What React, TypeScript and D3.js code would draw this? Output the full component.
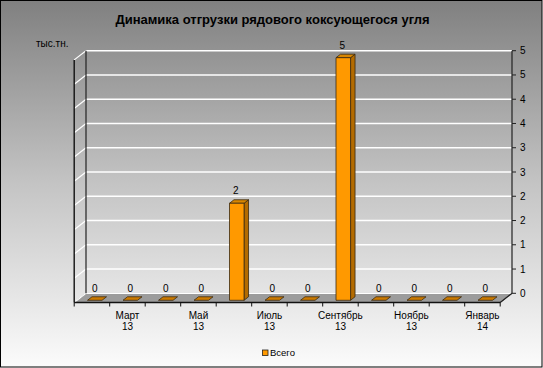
import React from 'react';
import * as d3 from 'd3';

// chart data
const months = ['Февраль 13', 'Март 13', 'Апрель 13', 'Май 13', 'Июнь 13', 'Июль 13', 'Август 13', 'Сентябрь 13', 'Октябрь 13', 'Ноябрь 13', 'Декабрь 13', 'Январь 14'];
const totals = [0, 0, 0, 0, 2, 0, 0, 5, 0, 0, 0, 0];
const yTicks = [0, 0.5, 1, 1.5, 2, 2.5, 3, 3.5, 4, 4.5, 5];
const seriesName = 'Всего';

const W = 543;
const H = 368;
// oblique depth of the floor (back wall -> front edge)
const DX = -11.8;
const DY = 9.2;
const F_BACK = 0.38;
const F_FRONT = 0.76;

const App = () => {
  const x = d3.scaleBand<string>().domain(months).range([86, 512]);
  const y = d3.scaleLinear().domain([0, 5]).range([293.3, 50.7]);
  const fmt = d3.format('.0f');

  // project a back-wall point forward by depth fraction f
  const p = (xv: number, v: number, f: number): [number, number] => [xv + DX * f, y(v) + DY * f];
  const pts = (arr: [number, number][]) => arr.map(a => a.join(',')).join(' ');

  const x0 = x.range()[0];
  const x1 = x.range()[1];
  const barW = x.bandwidth() * 0.41;

  return (
    <svg width={W} height={H} style={{ position: 'absolute', left: 0, top: 0 }} fontFamily="'Liberation Sans', Arial, sans-serif">
      <defs>
        <linearGradient id="bg" x1="0" y1="0" x2="0" y2="1">
          <stop offset="0" stopColor="#808080" />
          <stop offset="0.5" stopColor="#c4c4c4" />
          <stop offset="1" stopColor="#fbfbfb" />
        </linearGradient>
      </defs>
      <rect x={0.5} y={0.5} width={W - 1.5} height={H - 1.5} fill="url(#bg)" stroke="#000" strokeWidth={1} />

      <text x={W / 2 + 1} y={24} textAnchor="middle" fontSize={13} fontWeight="bold" fill="#000">
        Динамика отгрузки рядового коксующегося угля
      </text>
      <text x={36} y={47} fontSize={10} fill="#000">тыс.тн.</text>

      {/* floor */}
      <polygon points={pts([p(x0, 0, 0), p(x1, 0, 0), p(x1, 0, 1), p(x0, 0, 1)])} fill="#9c9c9c" stroke="#333" strokeWidth={0.8} />

      {/* back wall & left wall gridlines */}
      {yTicks.map(t => (
        <g key={t}>
          <line x1={x0} x2={x1} y1={y(t)} y2={y(t)} stroke="#fff" strokeWidth={1.4} />
          <line x1={p(x0, t, 1)[0]} y1={p(x0, t, 1)[1]} x2={x0} y2={y(t)} stroke="#fff" strokeWidth={1.2} />
        </g>
      ))}
      <line x1={x0} x2={x0} y1={y(5)} y2={y(0)} stroke="#222" strokeWidth={1.2} />
      <line x1={p(x0, 5, 1)[0]} x2={p(x0, 0, 1)[0]} y1={p(x0, 5, 1)[1]} y2={p(x0, 0, 1)[1]} stroke="#111" strokeWidth={1.4} />

      {/* right value axis */}
      <line x1={x1} x2={x1} y1={y(5)} y2={y(0)} stroke="#222" strokeWidth={1.2} />
      <line x1={x1} y1={y(0)} x2={p(x1, 0, 1)[0]} y2={p(x1, 0, 1)[1]} stroke="#222" strokeWidth={1.2} />
      {yTicks.map(t => (
        <g key={'r' + t}>
          <line x1={x1} x2={x1 + 4} y1={y(t)} y2={y(t)} stroke="#222" />
          <text x={x1 + 8} y={y(t)} dy="0.35em" fontSize={10} fill="#000">{fmt(t)}</text>
        </g>
      ))}

      {/* front category axis */}
      <line x1={p(x0, 0, 1)[0]} x2={p(x1, 0, 1)[0]} y1={p(x0, 0, 1)[1]} y2={p(x1, 0, 1)[1]} stroke="#111" strokeWidth={1.4} />
      {months.map((m, i) => {
        const bx = (x(m) as number);
        const [tx, ty] = p(bx, 0, 1);
        return <line key={'t' + i} x1={tx} x2={tx} y1={ty} y2={ty + 4} stroke="#111" />;
      }).concat([<line key="tl" x1={p(x1, 0, 1)[0]} x2={p(x1, 0, 1)[0]} y1={p(x1, 0, 1)[1]} y2={p(x1, 0, 1)[1] + 4} stroke="#111" />])}
      {months.map((m, i) => {
        if (i % 2 === 0) return null;
        const [cx, cy] = p((x(m) as number) + x.bandwidth() / 2, 0, 1);
        const [name, yr] = m.split(' ');
        return (
          <text key={'l' + i} x={cx} y={cy + 16} textAnchor="middle" fontSize={10} fill="#000">
            <tspan x={cx}>{name}</tspan>
            <tspan x={cx} dy={11.5}>{yr}</tspan>
          </text>
        );
      })}

      {/* bars */}
      {months.map((m, i) => {
        const v = totals[i];
        const c = (x(m) as number) + x.bandwidth() / 2;
        const l = c - barW / 2;
        const r = c + barW / 2;
        const fl = p(l, 0, F_FRONT), fr = p(r, 0, F_FRONT);
        const ftl = p(l, v, F_FRONT), ftr = p(r, v, F_FRONT);
        const bl = p(l, v, F_BACK), br = p(r, v, F_BACK), bb = p(r, 0, F_BACK);
        const [lx, ly] = p(c, v, F_FRONT);
        if (v === 0) {
          return (
            <g key={'b' + i}>
              <polygon points={pts([fl, fr, br, bl])} fill="#cc7a00" stroke="#3a2a10" strokeWidth={0.8} />
              <text x={lx} y={ly - 8} textAnchor="middle" fontSize={10} fill="#000">{fmt(v)}</text>
            </g>
          );
        }
        return (
          <g key={'b' + i}>
            <polygon points={pts([fr, ftr, br, bb])} fill="#b36b00" stroke="#3a2a10" strokeWidth={0.8} />
            <polygon points={pts([ftl, ftr, br, bl])} fill="#d88600" stroke="#3a2a10" strokeWidth={0.8} />
            <polygon points={pts([fl, fr, ftr, ftl])} fill="#ff9900" stroke="#3a2a10" strokeWidth={0.8} />
            <text x={lx - 1} y={ly - 9} textAnchor="middle" fontSize={10} fill="#000">{fmt(v)}</text>
          </g>
        );
      })}

      {/* legend */}
      <rect x={262.5} y={350} width={5.5} height={5.5} fill="#ff9900" stroke="#222" strokeWidth={0.8} />
      <text x={270} y={352.8} dy="0.35em" fontSize={9.5} fill="#000">{seriesName}</text>
    </svg>
  );
};

export default App;
